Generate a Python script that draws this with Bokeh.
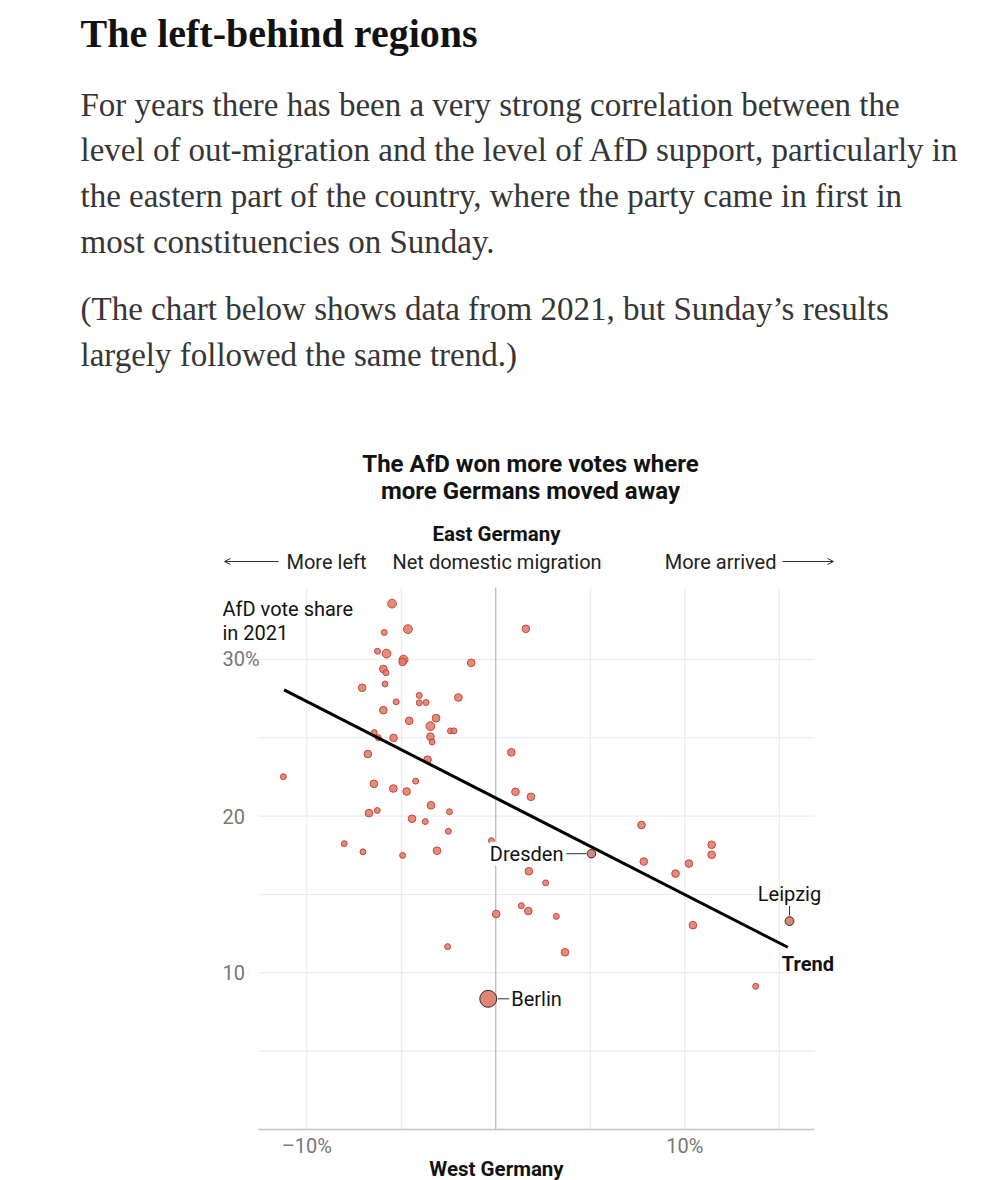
from bokeh.plotting import figure
from bokeh.models import Range1d, Label, ColumnDataSource, Arrow, OpenHead
from bokeh.core.properties import value
from bokeh.embed import file_html
from bokeh.resources import INLINE
import math

# ---------------- data ----------------
net_migration = [-5.49, -5.90, -4.65, -6.26, -5.78, -4.88, -4.93, -5.95, -5.81, -1.30,
                 -7.07, -5.86, -5.27, -4.05, -4.05, -3.69, -1.98, -5.95, -3.16, -4.58,
                 -3.46, -2.40, -2.21, -6.43, -6.22, -5.41, -3.46, -3.37, -6.77, -3.61,
                 -11.24, -6.45, -5.42, -4.24, -4.72, -3.43, -2.45, -6.71, -6.27, -4.43,
                 -3.73, -2.51, -8.02, -7.03, -4.93, -3.11, -2.55,
                 1.59, 0.82, 1.04, 1.86, -0.23, 7.71, 7.83, 1.75, 2.64, 1.35, 1.72,
                 0.02, 3.20, 3.66,
                 9.51, 10.22, 11.42, 11.42, 10.43, 13.75]
afd_share = [33.56, 31.72, 31.93, 30.52, 30.37, 29.99, 29.84, 29.39, 29.15, 29.78,
             28.19, 28.43, 27.29, 27.70, 27.23, 27.25, 27.57, 26.76, 26.25, 26.08,
             25.74, 25.44, 25.44, 25.33, 25.01, 24.99, 25.07, 24.73, 23.96, 23.60,
             22.51, 22.06, 21.76, 22.23, 21.57, 20.69, 20.28, 20.19, 20.36, 19.83,
             19.65, 19.03, 18.24, 17.72, 17.49, 17.79, 11.67,
             31.95, 24.07, 21.55, 21.23, 18.43, 19.43, 17.10, 16.48, 15.74, 14.28, 13.94,
             13.75, 13.60, 11.31,
             16.33, 16.97, 18.17, 17.53, 13.04, 9.14]
population_k = [350, 160, 350, 160, 350, 350, 265, 265, 160, 265,
                265, 160, 160, 160, 160, 160, 265, 265, 265, 265,
                350, 160, 160, 160, 160, 265, 265, 160, 265, 265,
                160, 265, 265, 160, 265, 265, 160, 265, 160, 265,
                160, 160, 160, 160, 160, 265, 160,
                265, 265, 265, 265, 160, 265, 265, 265, 160, 160, 265,
                265, 160, 265,
                265, 265, 265, 265, 265, 160]

cities = ["Dresden", "Leipzig", "Berlin"]
city_migration = [5.06, 15.54, -0.40]
city_afd = [17.60, 13.30, 8.34]
city_population_k = [330, 350, 1300]

trend_x = [-11.20, 15.45]
trend_y = [28.06, 11.63]

x_ticks = [-10, 10]
x_tick_labels = ["\u201310%", "10%"]
x_grid = [-10, -5, 5, 10, 15]
y_ticks = [10, 20, 30]
y_tick_labels = ["10", "20", "30%"]
y_grid = [5, 10, 15, 20, 25, 30]

headline = "The left-behind regions"
paragraph1 = ["For years there has been a very strong correlation between the",
              "level of out-migration and the level of AfD support, particularly in",
              "the eastern part of the country, where the party came in first in",
              "most constituencies on Sunday."]
paragraph2 = ["(The chart below shows data from 2021, but Sunday\u2019s results",
              "largely followed the same trend.)"]
chart_title = ["The AfD won more votes where", "more Germans moved away"]

# ---------------- layout (page pixels -> data units) ----------------
W, H = 988, 1180
X0_PX, SX = 495.3, 18.9        # page x of 0 %, px per % point
Y0_PX, SY = 1129.0, 15.67      # page y of 0 %, px per % point
CHART_L, CHART_R, CHART_T = 258, 814, 587


def dx(px):
    return (px - X0_PX) / SX


def dy(py):
    return (Y0_PX - py) / SY


SANS = "Roboto"
SERIF = "Liberation Serif"
FS = 20  # chart text size

p = figure(width=W, height=H, output_backend="svg", toolbar_location=None,
           x_range=Range1d(dx(0), dx(W)), y_range=Range1d(dy(H), dy(0)),
           x_axis_type=None, y_axis_type=None,
           min_border=0, min_border_left=0, min_border_right=0,
           min_border_top=0, min_border_bottom=0,
           background_fill_color="white", border_fill_color="white")
p.outline_line_color = None
p.grid.visible = False

x_left, x_right, y_top = dx(CHART_L), dx(CHART_R), dy(CHART_T)

# grid lines
p.segment(x0=x_grid, y0=[0] * len(x_grid), x1=x_grid, y1=[y_top] * len(x_grid),
          line_color="#e9e9e9", line_width=1)
p.segment(x0=[x_left] * len(y_grid), y0=y_grid, x1=[x_right] * len(y_grid), y1=y_grid,
          line_color="#e9e9e9", line_width=1)
# zero line and baseline
p.segment(x0=[0], y0=[0], x1=[0], y1=[y_top], line_color="#a6a6a6", line_width=1)
p.segment(x0=[x_left], y0=[0], x1=[x_right], y1=[0], line_color="#c4c4c4",
          line_width=1.5)

# tick labels
p.text(x=x_ticks, y=[dy(1145)] * len(x_ticks), text=x_tick_labels,
       text_font=value(SANS), text_font_size="20px", text_color="#777777",
       text_align="center", text_baseline="middle")
p.text(x=[dx(222)] * len(y_ticks), y=y_ticks, text=y_tick_labels,
       text_font=value(SANS), text_font_size="20px", text_color="#777777",
       text_align="left", text_baseline="middle")

# points
sizes = [0.47 * math.sqrt(v) for v in population_k]
src = ColumnDataSource(dict(x=net_migration, y=afd_share, s=sizes))
p.scatter(x="x", y="y", size="s", source=src, fill_color="#e27a69", fill_alpha=0.88,
          line_color="#c4473b", line_width=1)

# trend
p.line(trend_x, trend_y, line_color="black", line_width=3)

city_sizes = [0.47 * math.sqrt(v) for v in city_population_k]
csrc = ColumnDataSource(dict(x=city_migration, y=city_afd, s=city_sizes))
p.scatter(x="x", y="y", size="s", source=csrc, fill_color="#e08576", fill_alpha=1.0,
          line_color="#2a2a2a", line_width=1)


def add_text(text, px, py, size, color="#121212", font=SANS, style="normal",
             align="left", baseline="middle"):
    p.add_layout(Label(x=dx(px), y=dy(py), text=text, text_font=font,
                       text_font_size=f"{size}px", text_color=color,
                       text_font_style=style, text_align=align,
                       text_baseline=baseline))


# city labels + connectors
dres_x, dres_y = city_migration[0], city_afd[0]
p.add_layout(Label(x=dres_x - 28 / SX, y=dres_y, text="Dresden", text_font=SANS,
                   text_font_size=f"{FS}px", text_color="#121212", text_align="right",
                   text_baseline="middle", background_fill_color="white"))
p.segment(x0=[dres_x - 25 / SX], y0=[dres_y], x1=[dres_x - 5 / SX], y1=[dres_y],
          line_color="#333333", line_width=1)

leip_x, leip_y = city_migration[1], city_afd[1]
p.add_layout(Label(x=leip_x, y=leip_y + 27 / SY, text="Leipzig", text_font=SANS,
                   text_font_size=f"{FS}px", text_color="#121212", text_align="center",
                   text_baseline="middle"))
p.segment(x0=[leip_x], y0=[leip_y + 5.5 / SY], x1=[leip_x], y1=[leip_y + 15 / SY],
          line_color="#333333", line_width=1)

ber_x, ber_y = city_migration[2], city_afd[2]
p.add_layout(Label(x=ber_x + 23 / SX, y=ber_y, text="Berlin", text_font=SANS,
                   text_font_size=f"{FS}px", text_color="#121212", text_align="left",
                   text_baseline="middle"))
p.segment(x0=[ber_x + 9.5 / SX], y0=[ber_y], x1=[ber_x + 21 / SX], y1=[ber_y],
          line_color="#333333", line_width=1)

p.add_layout(Label(x=trend_x[1] - 6 / SX, y=trend_y[1] - 17 / SY, text="Trend",
                   text_font=SANS, text_font_size=f"{FS}px", text_color="#121212",
                   text_font_style="bold", text_align="left", text_baseline="middle"))

# chart annotations
add_text("AfD vote share", 222, 608, FS)
add_text("in 2021", 222, 632, FS)
add_text("East Germany", 496, 533, 20.5, style="bold", align="center")
add_text("More left", 286, 561, FS, color="#222222")
add_text("Net domestic migration", 392, 561, FS, color="#222222")
add_text("More arrived", 776, 561, FS, color="#222222", align="right")
add_text("West Germany", 496, 1168, 20.5, style="bold", align="center")

p.add_layout(Arrow(end=OpenHead(size=6, line_width=1, line_color="#333333"),
                   x_start=dx(278), y_start=dy(561), x_end=dx(224), y_end=dy(561),
                   line_width=1, line_color="#333333"))
p.add_layout(Arrow(end=OpenHead(size=6, line_width=1, line_color="#333333"),
                   x_start=dx(782), y_start=dy(561), x_end=dx(833), y_end=dy(561),
                   line_width=1, line_color="#333333"))

for i, line in enumerate(chart_title):
    add_text(line, 530, 463 + 27 * i, 24, style="bold", align="center")

# article text
add_text(headline, 80, 33, 40, font=SERIF, style="bold")
for i, line in enumerate(paragraph1):
    add_text(line, 80, 104 + 45.7 * i, 33, color="#363636", font=SERIF)
for i, line in enumerate(paragraph2):
    add_text(line, 80, 308 + 46 * i, 33, color="#363636", font=SERIF)

open("out.html", "w").write(file_html(p, INLINE))
